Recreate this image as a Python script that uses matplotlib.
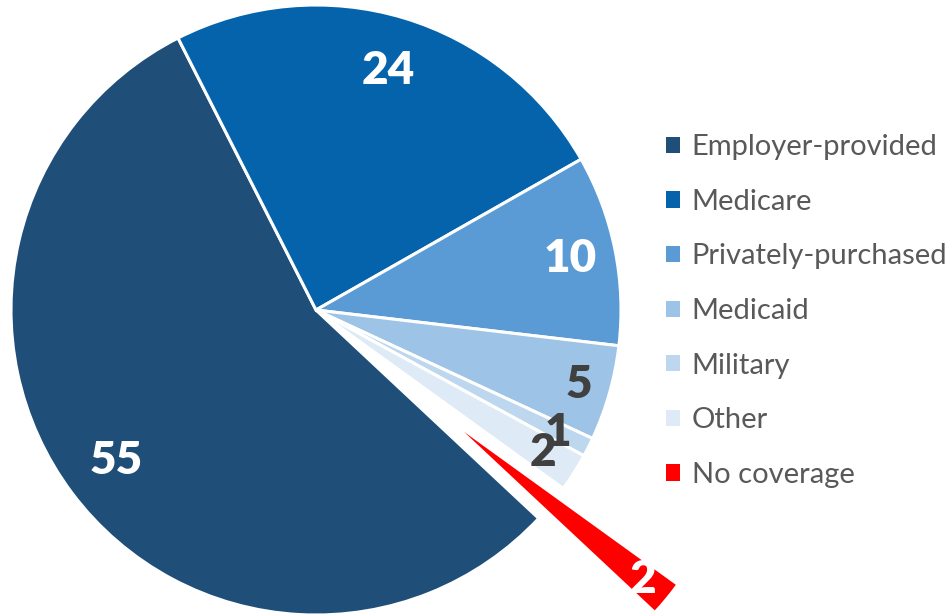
import numpy as np
import matplotlib
matplotlib.use("Agg")
import matplotlib.pyplot as plt

# health coverage shares (percent), legend order
categories = ["Employer-provided", "Medicare", "Privately-purchased", "Medicaid",
              "Military", "Other", "No coverage"]
values = [55, 24, 10, 5, 1, 2, 2]

COLORS = ["#1F4E79", "#0563AC", "#5B9BD5", "#9DC3E6", "#BDD7EE", "#DEEBF7", "#FF0000"]
LABEL_COLORS = ["white", "white", "white", "#404040", "#404040", "#404040", "white"]
LABEL_DIST = [0.82, 0.82, 0.85, 0.895, 0.89, 0.88, 0.84]
EXPLODE = [0, 0, 0, 0, 0, 0, 0.55]

plt.rcParams["font.family"] = ["Lato", "DejaVu Sans"]

W, H = 953, 615
R_PX = 305.0
CX, CY = 316.0, 310.0

fig = plt.figure(figsize=(W / 100, H / 100), dpi=100)
ax = fig.add_axes([0, 0, 1, 1])

wedges, texts, autotexts = ax.pie(
    values, colors=COLORS, startangle=-43.1, counterclock=False,
    explode=EXPLODE, radius=1.0, autopct=lambda p: "",
    wedgeprops=dict(edgecolor="white", linewidth=2.2),
)

# exploded red slice is drawn a bit shorter in the original
wedges[-1].set_radius(0.94)

for w, t, v, c, d in zip(wedges, autotexts, values, LABEL_COLORS, LABEL_DIST):
    th = np.deg2rad((w.theta1 + w.theta2) / 2)
    cx, cy = w.center
    t.set_position((cx + d * np.cos(th), cy + d * np.sin(th)))
    t.set_text(str(v))
    t.set_color(c)
    t.set_fontsize(33)
    t.set_fontweight("heavy")
    t.set_ha("center"); t.set_va("center")

ax.set_xlim(-CX / R_PX, (W - CX) / R_PX)
ax.set_ylim(-(H - CY) / R_PX, CY / R_PX)
ax.set_aspect("auto")
ax.axis("off")

leg = ax.legend(wedges, categories, loc="center left",
                bbox_to_anchor=(666 / W, 1 - 311 / H), bbox_transform=fig.transFigure,
                frameon=False, fontsize=21, handlelength=0.48, handleheight=0.48,
                handletextpad=0.4, labelspacing=0.98, borderpad=0, borderaxespad=0)
for txt in leg.get_texts():
    txt.set_color("#595959")
for h in leg.legend_handles:
    h.set_edgecolor("none")

fig.savefig("out.png", dpi=100)
